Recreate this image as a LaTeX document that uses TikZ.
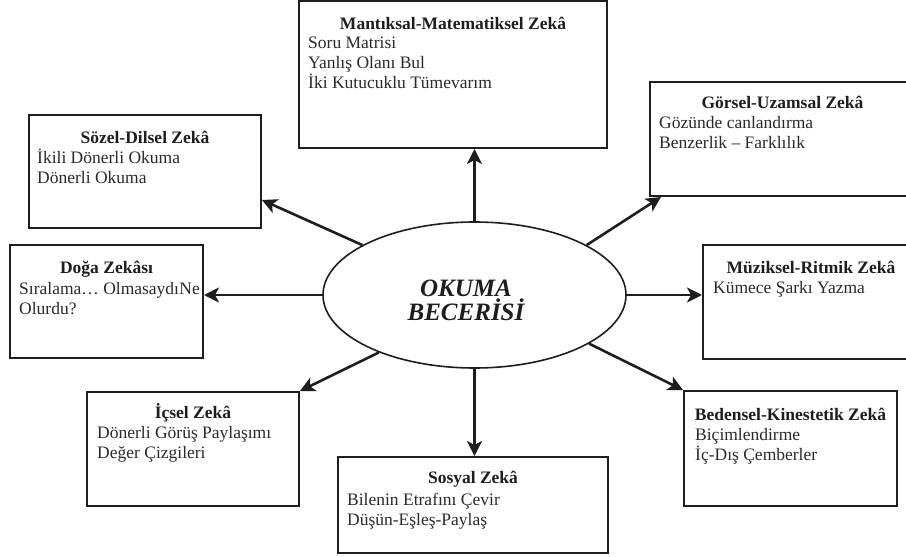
\documentclass[tikz,border=0pt]{standalone}
\usepackage{fontspec}
\setmainfont{Liberation Serif}
\usetikzlibrary{arrows.meta,shapes.geometric,calc}
\definecolor{ink}{HTML}{1E1E1E}
\definecolor{txt}{HTML}{2A2A2A}
\begin{document}
\begin{tikzpicture}[x=1pt,y=-1pt,
  box/.style={draw=ink,line width=2pt,rectangle,inner sep=0pt},
  ttl/.style={anchor=base,inner sep=0pt,font=\fontsize{17.5}{20}\selectfont\bfseries,text=ink},
  itm/.style={anchor=base west,inner sep=0pt,font=\fontsize{17.5}{20}\selectfont,text=txt},
  arr/.style={draw=ink,line width=2.6pt,-{Stealth[length=15pt,width=15pt,inset=4pt]}}]
\clip (0,0) rectangle (906,557);
\fill[white] (0,0) rectangle (906,557);

% central ellipse
\node[draw=ink,line width=1.6pt,ellipse,minimum width=303pt,minimum height=146pt,inner sep=0pt] (oku) at (474.5,295) {};
\node[font=\fontsize{25}{24}\selectfont\bfseries\itshape,align=center,text=ink,inner sep=0pt] (okut) at (466,300) {OKUMA\\BECERİSİ};

% boxes
\node[box,minimum width=308pt,minimum height=147pt] (mant) at (453,74.5) {};
\node[box,minimum width=265pt,minimum height=114pt] (gors) at (782.5,139) {};
\node[box,minimum width=232pt,minimum height=113pt] (sozel) at (145,171.5) {};
\node[box,minimum width=193pt,minimum height=113pt] (doga) at (106.5,301.5) {};
\node[box,minimum width=216pt,minimum height=114pt] (muz) at (811,302) {};
\node[box,minimum width=212pt,minimum height=114pt] (icsel) at (193,449) {};
\node[box,minimum width=270pt,minimum height=96pt] (sos) at (473,505) {};
\node[box,minimum width=213pt,minimum height=115pt] (bed) at (790.5,448.5) {};

% texts
\node[ttl] (mant-t) at (453,29) {Mantıksal-Matematiksel Zekâ};
\node[itm] (mant-1) at (308,48) {Soru Matrisi};
\node[itm] (mant-2) at (308,68) {Yanlış Olanı Bul};
\node[itm] (mant-3) at (308,88) {İki Kutucuklu Tümevarım};

\node[ttl] (gors-t) at (782.5,108) {Görsel-Uzamsal Zekâ};
\node[itm] (gors-1) at (659,128) {Gözünde canlandırma};
\node[itm] (gors-2) at (659,148) {Benzerlik – Farklılık};

\node[ttl] (sozel-t) at (145,143) {Sözel-Dilsel Zekâ};
\node[itm] (sozel-1) at (37,163) {İkili Dönerli Okuma};
\node[itm] (sozel-2) at (37,183) {Dönerli Okuma};

\node[ttl] (doga-t) at (106.5,273) {Doğa Zekâsı};
\node[itm] (doga-1) at (19,294) {Sıralama… Olmasaydı\kern-4pt\ Ne};
\node[itm] (doga-2) at (19,314) {Olurdu?};

\node[ttl] (muz-t) at (811,273) {Müziksel-Ritmik Zekâ};
\node[itm] (muz-1) at (713,293) {Kümece Şarkı Yazma};

\node[ttl] (icsel-t) at (193,418) {İçsel Zekâ};
\node[itm] (icsel-1) at (97,438) {Dönerli Görüş Paylaşımı};
\node[itm] (icsel-2) at (97,458) {Değer Çizgileri};

\node[ttl] (sos-t) at (473,483) {Sosyal Zekâ};
\node[itm] (sos-1) at (347,505) {Bilenin Etrafını Çevir};
\node[itm] (sos-2) at (347,525) {Düşün-Eşleş-Paylaş};

\node[ttl] (bed-t) at (790.5,420) {Bedensel-Kinestetik Zekâ};
\node[itm] (bed-1) at (695,440) {Biçimlendirme};
\node[itm] (bed-2) at (695,460) {İç-Dış Çemberler};

% connectors
\draw[arr] (oku.north) -- (oku.north |- mant.south);
\draw[arr] (oku.24) -- ($(gors.south west)+(12,0)$);
\draw[arr] (oku.east) -- (oku.east -| muz.west);
\draw[arr] (oku.337.3) -- (bed.north west);
\draw[arr] (oku.south) -- (oku.south |- sos.north);
\draw[arr] (oku.211.5) -- (icsel.north east);
\draw[arr] (oku.west) -- (oku.west -| doga.east);
\draw[arr] (oku.156.8) -- ($(sozel.south east)+(0,-29)$);
\end{tikzpicture}
\end{document}
